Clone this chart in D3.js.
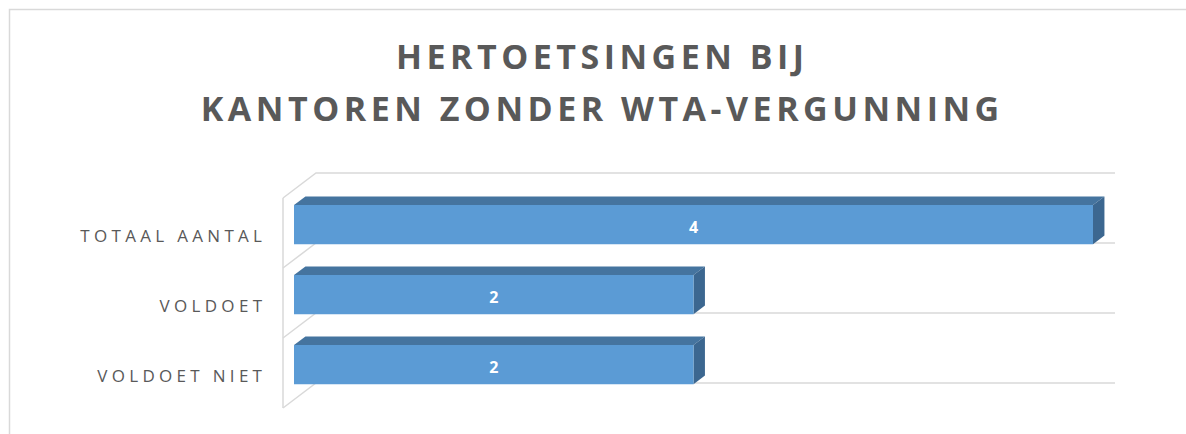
<!DOCTYPE html>
<html>
<head>
<meta charset="utf-8">
<script src="https://cdn.jsdelivr.net/npm/d3@7"></script>
<style>
  body { margin: 0; background: #fff; }
  svg { display: block; font-family: "Open Sans", sans-serif; }
</style>
</head>
<body>
<div id="chart"></div>
<script>
(() => {

    // data
    const titleLines = ["HERTOETSINGEN BIJ", "KANTOREN ZONDER WTA-VERGUNNING"]
    const categories = ["TOTAAL AANTAL", "VOLDOET", "VOLDOET NIET"]
    const values = [4, 2, 2]
    const valueDomain = [0, 4]

    const W = 1186, H = 434
    const svg = d3.select("#chart")
        .append("svg")
        .attr("width", W)
        .attr("height", H)

    // chart frame (right and bottom edge fall outside the picture)
    svg.append("rect")
        .attr("x", 9.5).attr("y", 9.5)
        .attr("width", 1300).attr("height", 600)
        .attr("fill", "none")
        .attr("stroke", "#d9d9d9")
        .attr("stroke-width", 1.5)

    // 3D projection: front plane scales plus a depth vector
    const depth = { dx: 33, dy: -25 }
    const barDepth = [1 / 3, 0.68]

    const x = d3.scaleLinear()
        .domain(valueDomain)
        .range([283, 1082])

    const y = d3.scaleBand()
        .domain(categories)
        .range([198, 408])
        .paddingInner(0.44)
        .paddingOuter(0.22)

    const proj = (px, py, t) => [px + depth.dx * t, py + depth.dy * t]

    // category boundaries on the front plane
    const bounds = d3.range(categories.length + 1).map(i => y.range()[0] + i * y.step())

    const grid = svg.append("g")
        .attr("fill", "none")
        .attr("stroke", "#d9d9d9")
        .attr("stroke-width", 1.5)

    // left wall front edge
    grid.append("line")
        .attr("x1", x(0)).attr("x2", x(0))
        .attr("y1", bounds[0]).attr("y2", bounds[bounds.length - 1])

    // depth diagonals + back gridlines
    bounds.forEach(b => {
        const back0 = proj(x(0), b, 1)
        const back1 = proj(x(valueDomain[1]), b, 1)
        grid.append("polyline")
            .attr("points", [[x(0), b], back0, back1].join(" "))
    })

    // bars
    const bars = svg.selectAll(".bar")
        .data(categories.map((c, i) => ({ cat: c, v: values[i] })))
        .enter()
        .append("g")
        .attr("class", "bar")

    const corner = (d, atEnd, bottom, t) =>
        proj(x(atEnd ? d.v : 0), y(d.cat) + (bottom ? y.bandwidth() : 0), t)

    // top face
    bars.append("polygon")
        .attr("points", d => [
            corner(d, false, false, barDepth[0]),
            corner(d, true, false, barDepth[0]),
            corner(d, true, false, barDepth[1]),
            corner(d, false, false, barDepth[1])
        ].join(" "))
        .attr("fill", "#45749f")

    // end face
    bars.append("polygon")
        .attr("points", d => [
            corner(d, true, false, barDepth[0]),
            corner(d, true, false, barDepth[1]),
            corner(d, true, true, barDepth[1]),
            corner(d, true, true, barDepth[0])
        ].join(" "))
        .attr("fill", "#3c6790")

    // front face
    bars.append("polygon")
        .attr("points", d => [
            corner(d, false, false, barDepth[0]),
            corner(d, true, false, barDepth[0]),
            corner(d, true, true, barDepth[0]),
            corner(d, false, true, barDepth[0])
        ].join(" "))
        .attr("fill", "#5b9bd5")

    // value labels
    bars.append("text")
        .attr("x", d => {
            const a = corner(d, false, false, barDepth[0])
            const b = corner(d, true, false, barDepth[0])
            return (a[0] + b[0]) / 2
        })
        .attr("y", d => corner(d, false, false, barDepth[0])[1] + y.bandwidth() / 2 + 3)
        .attr("dy", "0.35em")
        .attr("text-anchor", "middle")
        .attr("fill", "#fff")
        .attr("font-weight", 700)
        .attr("font-size", 16)
        .text(d => d.v)

    // category labels
    const labelSpacing = 4.3
    svg.selectAll(".cat")
        .data(categories)
        .enter()
        .append("text")
        .attr("class", "cat")
        .attr("x", 262 + labelSpacing)
        .attr("y", d => y(d) + y.bandwidth() / 2 + 3)
        .attr("dy", "0.36em")
        .attr("text-anchor", "end")
        .attr("fill", "#595959")
        .attr("font-size", 17)
        .style("letter-spacing", labelSpacing + "px")
        .text(d => d)

    // title
    const titleSpacing = 4.5
    svg.selectAll(".title")
        .data(titleLines)
        .enter()
        .append("text")
        .attr("class", "title")
        .attr("x", 600 + titleSpacing / 2)
        .attr("y", (d, i) => 69 + i * 52)
        .attr("text-anchor", "middle")
        .attr("fill", "#595959")
        .attr("font-weight", 700)
        .attr("font-size", 34)
        .style("letter-spacing", titleSpacing + "px")
        .text(d => d)

})();
</script>
</body>
</html>
